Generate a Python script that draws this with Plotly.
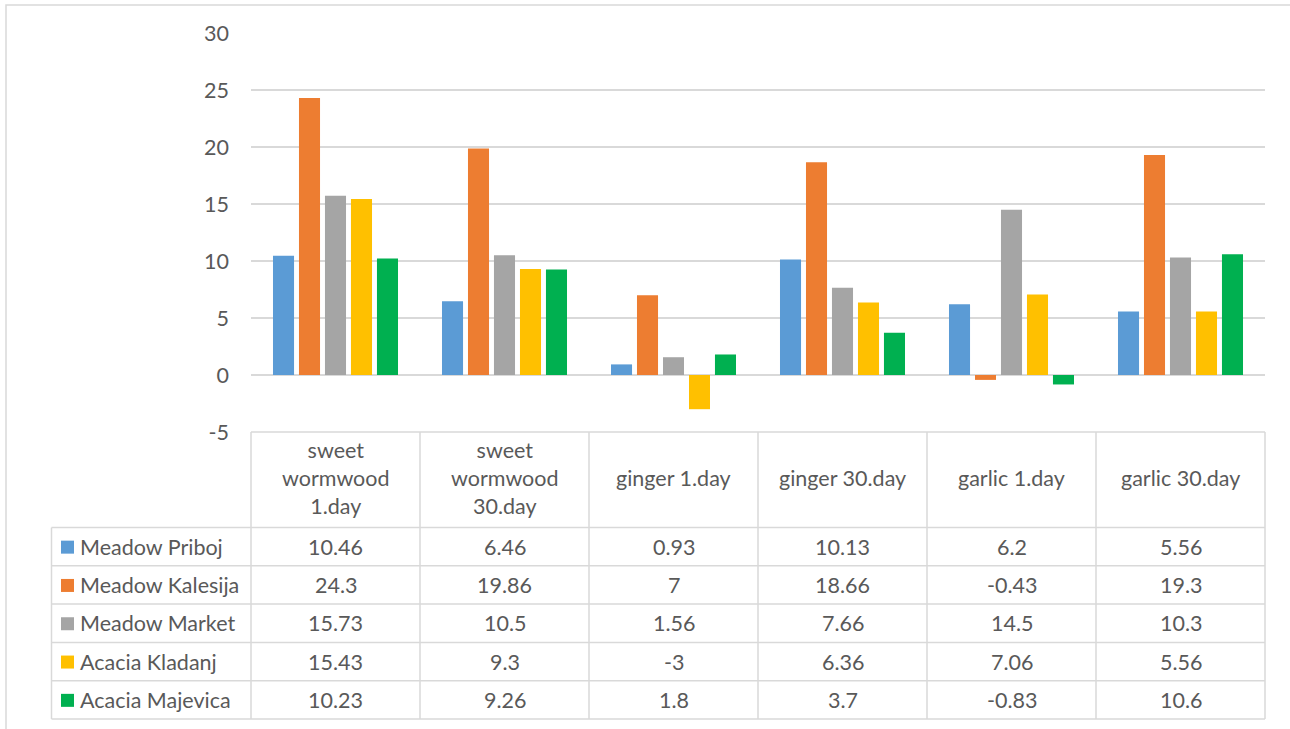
import plotly.graph_objects as go

# Categories (shown as table column headers)
categories = ["sweet wormwood 1.day", "sweet wormwood 30.day", "ginger 1.day",
              "ginger 30.day", "garlic 1.day", "garlic 30.day"]
header_labels = ["sweet<br>wormwood<br>1.day", "sweet<br>wormwood<br>30.day", "ginger 1.day",
                 "ginger 30.day", "garlic 1.day", "garlic 30.day"]

series_names = ["Meadow Priboj", "Meadow Kalesija", "Meadow Market",
                "Acacia Kladanj", "Acacia Majevica"]

meadow_priboj = [10.46, 6.46, 0.93, 10.13, 6.2, 5.56]
meadow_kalesija = [24.3, 19.86, 7, 18.66, -0.43, 19.3]
meadow_market = [15.73, 10.5, 1.56, 7.66, 14.5, 10.3]
acacia_kladanj = [15.43, 9.3, -3, 6.36, 7.06, 5.56]
acacia_majevica = [10.23, 9.26, 1.8, 3.7, -0.83, 10.6]

series_values = [meadow_priboj, meadow_kalesija, meadow_market,
                 acacia_kladanj, acacia_majevica]
colors = ["#5B9BD5", "#ED7D31", "#A5A5A5", "#FFC000", "#00B050"]

y_ticks = [-5, 0, 5, 10, 15, 20, 25, 30]
y_tick_text = ["-5", "0", "5", "10", "15", "20", "25", "30"]

W, H = 1290, 729
FONT = "Lato, Carlito, 'Open Sans', sans-serif"
TXT = "#595959"
GRID = "#D9D9D9"
FS = 21.5


def px(x):
    return x / W


def py(y):
    return 1 - y / H


# layout of the plot area / data table in pixels
plot_left, plot_right = 251, 1265
plot_top, plot_bottom = 33, 432
header_bottom = 527.5
row_h = 38.3
legend_left = 51.5

fig = go.Figure()
for name, vals, col in zip(series_names, series_values, colors):
    fig.add_trace(go.Bar(x=categories, y=vals, name=name, marker_color=col,
                         marker_line_width=0, showlegend=False))

fig.update_layout(
    width=W, height=H,
    margin=dict(l=0, r=0, t=0, b=0, pad=0),
    showlegend=False,
    paper_bgcolor="white", plot_bgcolor="white",
    barmode="group", bargap=0.231, bargroupgap=0.19,
    font=dict(family=FONT, color=TXT, size=FS),
    xaxis=dict(domain=[px(plot_left), px(plot_right)], showticklabels=False,
               showgrid=False, zeroline=False, showline=False, ticks="",
               automargin=False),
    yaxis=dict(domain=[py(plot_bottom), py(plot_top)], range=[-5, 30],
               tickvals=y_ticks, ticktext=y_tick_text,
               showgrid=True, gridcolor=GRID, gridwidth=1.5,
               zeroline=True, zerolinecolor=GRID, zerolinewidth=1.5,
               showline=False, ticks="", ticklabelstandoff=21,
               automargin=False,
               tickfont=dict(size=FS, color=TXT, family=FONT)),
)

shapes = []
line = dict(color=GRID, width=1.5)

# outer chart border
shapes.append(dict(type="rect", xref="paper", yref="paper",
                   x0=px(6), x1=px(1300), y0=py(740), y1=py(5),
                   line=dict(color="#D9D9D9", width=1.5)))

ncat = len(categories)
col_w = (plot_right - plot_left) / ncat
table_bottom = header_bottom + row_h * len(series_names)

# vertical lines of the table
for i in range(ncat + 1):
    x = plot_left + i * col_w
    shapes.append(dict(type="line", xref="paper", yref="paper",
                       x0=px(x), x1=px(x), y0=py(plot_bottom), y1=py(table_bottom),
                       line=line))
shapes.append(dict(type="line", xref="paper", yref="paper",
                   x0=px(legend_left), x1=px(legend_left),
                   y0=py(header_bottom), y1=py(table_bottom), line=line))
# horizontal lines of the table
shapes.append(dict(type="line", xref="paper", yref="paper",
                   x0=px(plot_left), x1=px(plot_right),
                   y0=py(plot_bottom), y1=py(plot_bottom), line=line))
for r in range(len(series_names) + 1):
    y = header_bottom + r * row_h
    shapes.append(dict(type="line", xref="paper", yref="paper",
                       x0=px(legend_left), x1=px(plot_right),
                       y0=py(y), y1=py(y), line=line))

annotations = []
# header cells
for i, lab in enumerate(header_labels):
    cx = plot_left + (i + 0.5) * col_w
    annotations.append(dict(xref="paper", yref="paper", x=px(cx),
                            y=py((plot_bottom + header_bottom) / 2 - 2),
                            text=lab, showarrow=False, xanchor="center", yanchor="middle",
                            align="center", font=dict(size=FS, color=TXT, family=FONT)))

# data rows with legend keys
for r, (name, vals, col) in enumerate(zip(series_names, series_values, colors)):
    cy = header_bottom + (r + 0.5) * row_h
    shapes.append(dict(type="rect", xref="paper", yref="paper",
                       x0=px(61), x1=px(74), y0=py(cy + 7), y1=py(cy - 6),
                       fillcolor=col, line=dict(width=0)))
    annotations.append(dict(xref="paper", yref="paper", x=px(78), y=py(cy),
                            text=name, showarrow=False, xanchor="left", yanchor="middle",
                            font=dict(size=FS, color=TXT, family=FONT)))
    for i, v in enumerate(vals):
        cx = plot_left + (i + 0.5) * col_w
        annotations.append(dict(xref="paper", yref="paper", x=px(cx), y=py(cy),
                                text=f"{v:g}", showarrow=False, xanchor="center",
                                yanchor="middle",
                                font=dict(size=FS, color=TXT, family=FONT)))

fig.update_layout(shapes=shapes, annotations=annotations)
fig.write_html("out.html")
